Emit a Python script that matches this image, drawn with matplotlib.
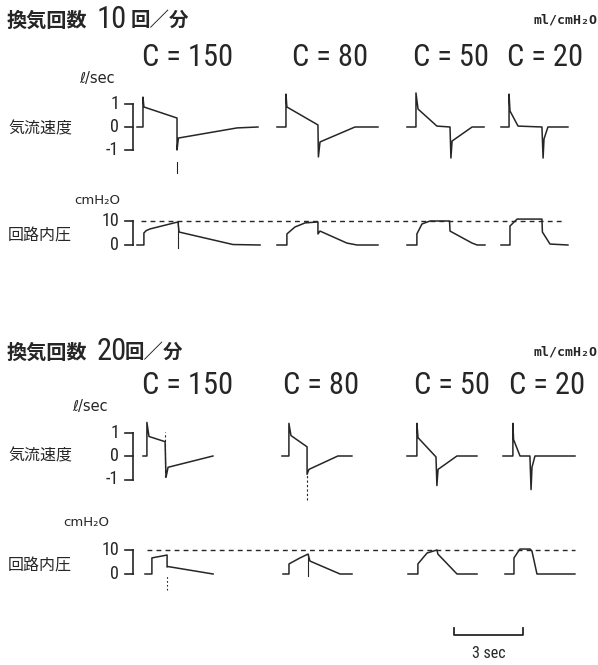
import matplotlib
matplotlib.use("Agg")
import matplotlib.pyplot as plt

# --- DATA: flow (l/sec) and circuit pressure (cmH2O) traces, time in sec ---
compliance = [150, 80, 50, 20]          # ml/cmH2O
vent_rates = [10, 20]                   # breaths / min
ref_pressure = 10                       # dashed reference, cmH2O
flow_ticks = [1, 0, -1]
pres_ticks = [10, 0]
scale_sec = 3

# 10/min, flow
f10_t = [[0, 0.26, 0.26, 0.30, 1.74, 1.74, 1.80, 4.35, 5.26],
         [0, 0.39, 0.39, 0.43, 1.78, 1.80, 1.87, 3.39, 4.39],
         [0, 0.39, 0.39, 0.48, 1.30, 1.87, 1.91, 1.96, 2.83, 3.35],
         [0, 0.35, 0.35, 0.39, 0.74, 1.78, 1.83, 1.87, 2.04, 2.91]]
f10_v = [[0, 0, 1.30, 0.87, 0.39, -1.00, -0.48, -0.04, 0],
         [0, 0, 1.43, 0.87, 0.09, -1.30, -0.65, 0, 0],
         [0, 0, 1.48, 0.78, 0.04, 0, -1.35, -0.61, 0, 0],
         [0, 0, 1.43, 0.70, 0.04, 0, -1.35, -0.52, 0, 0]]
# 10/min, pressure
p10_t = [[0, 0.30, 0.30, 0.40, 0.57, 1.78, 1.83, 4.17, 5.35],
         [0, 0.43, 0.43, 0.78, 1.22, 1.78, 1.78, 1.87, 3.04, 3.48, 4.39],
         [0, 0.43, 0.43, 0.65, 1.00, 1.85, 1.87, 2.83, 3.05, 3.39],
         [0, 0.39, 0.39, 0.70, 1.78, 1.80, 2.13, 2.91]]
p10_v = [[0, 0, 5.0, 6.0, 6.7, 9.6, 5.4, 0.2, 0],
         [0, 0, 4.6, 7.5, 9.2, 9.6, 4.6, 5.8, 0.8, 0, 0],
         [0, 0, 4.6, 8.75, 10, 10, 5.8, 0.8, 0, 0],
         [0, 0, 7.9, 10.8, 10.8, 5.4, 0.4, 0]]
# 20/min, flow
f20_t = [[0, 0.17, 0.17, 0.26, 0.96, 1.00, 1.09, 3.04],
         [0, 0.30, 0.30, 0.39, 1.09, 1.09, 1.17, 2.43, 3.04],
         [0, 0.43, 0.43, 0.48, 1.26, 1.30, 1.35, 2.17, 3.04],
         [0, 0.43, 0.43, 0.46, 0.74, 1.17, 1.22, 1.26, 1.39, 3.13]]
f20_v = [[0, 0, 1.43, 0.83, 0.61, -0.91, -0.48, 0],
         [0, 0, 1.39, 0.87, 0.39, -0.78, -0.57, 0, 0],
         [0, 0, 1.39, 0.78, -0.04, -1.26, -0.57, 0, 0],
         [0, 0, 1.39, 0.70, 0, 0, -1.43, -0.48, 0, 0]]
# 20/min, pressure
p20_t = [[0, 0.30, 0.30, 0.52, 0.96, 0.96, 1.00, 2.96],
         [0, 0.26, 0.26, 0.74, 1.09, 1.17, 2.48, 3.00],
         [0, 0.43, 0.43, 0.83, 1.26, 1.30, 2.13, 3.00],
         [0, 0.39, 0.39, 0.65, 1.09, 1.17, 1.39, 3.04]]
p20_v = [[0, 0, 6.7, 7.1, 7.9, 2.9, 3.1, 0],
         [0, 0, 4.2, 6.7, 8.3, 5.4, 0, 0],
         [0, 0, 4.2, 8.75, 10, 8.3, 0, 0],
         [0, 0, 6.7, 10.4, 10.4, 9.6, 0, 0]]

# event marks at end of inspiration: (column, time, low, high, style)
f10_marks = [(0, 1.74, -2.0, -1.5, "-")]
p10_marks = [(0, 1.78, -1.25, 9.6, "-")]
f20_marks = [(0, 0.96, -0.91, 1.04, (0, (2, 2))), (1, 1.09, -1.87, -0.78, (0, (2, 2)))]
p20_marks = [(0, 0.96, -6.7, -0.5, (0, (1.5, 2))), (1, 1.09, -0.8, 8.3, "-")]

# --- LAYOUT (pixels) ---
W, H = 598, 665
PX_SEC = 23.0
INK = "#262626"
JP = ["Noto Sans CJK JP", "DejaVu Sans"]
NARROW = ["Roboto Condensed", "Liberation Sans Narrow", "Liberation Sans"]

fig = plt.figure(figsize=(W / 100, H / 100), dpi=100)


def row_axes(top, bottom, base, ppu):
    ax = fig.add_axes([0, 1 - bottom / H, 1, (bottom - top) / H])
    ax.set_xlim(0, W / PX_SEC)
    ax.set_ylim(-(bottom - base) / ppu, (base - top) / ppu)
    ax.axis("off")
    return ax


def ftext(x, y, s, **kw):
    kw.setdefault("color", INK)
    fig.text(x / W, 1 - y / H, s, **kw)


def bracket(ax, ticks, x_px=133, left_px=125, label_x=119, size=13):
    x, xl = x_px / PX_SEC, left_px / PX_SEC
    ax.plot([x, x], [min(ticks), max(ticks)], color=INK, lw=1.2)
    for v in ticks:
        ax.plot([xl, x], [v, v], color=INK, lw=1.2)
        ax.text(label_x / PX_SEC, v, str(v), ha="right", va="center",
                fontsize=size, family=NARROW, color=INK)


def draw_row(ax, offsets, ts, vs, marks):
    for off, t, v in zip(offsets, ts, vs):
        ax.plot([off / PX_SEC + ti for ti in t], v, color=INK, lw=1.1,
                solid_joinstyle="round")
    for col, t, lo, hi, ls in marks:
        x = offsets[col] / PX_SEC + t
        ax.plot([x, x], [lo, hi], color=INK, lw=0.8, ls=ls)


panels = [
    dict(rate=vent_rates[0], title_y=20, kana_x=131, c_y=57,
         c_x=[188, 330, 451, 545],
         unit_y=78, unit_x=97, flow=(80, 185, 127, 23.0), fts=f10_t, fvs=f10_v,
         foff=[137, 277, 407, 501], fmarks=f10_marks, flab_y=129,
         cm_x=97, cm_y=200, pres=(205, 262, 245, 2.4), pts=p10_t, pvs=p10_v,
         poff=[137, 277, 407, 501], pmarks=p10_marks, plab_y=236,
         dash=(141, 563)),
    dict(rate=vent_rates[1], title_y=352, kana_x=125, c_y=385,
         c_x=[188, 321, 452, 547],
         unit_y=406, unit_x=90, flow=(410, 505, 456, 23.5), fts=f20_t, fvs=f20_v,
         foff=[143, 282, 407, 503], fmarks=f20_marks, flab_y=456,
         cm_x=86, cm_y=522, pres=(535, 600, 574, 2.4), pts=p20_t, pvs=p20_v,
         poff=[145, 283, 408, 505], pmarks=p20_marks, plab_y=566,
         dash=(147, 575)),
]

for p in panels:
    # heading
    ftext(7, p["title_y"], "換気回数", family=JP, fontsize=14.5, weight="bold",
          va="center")
    ftext(97, p["title_y"] - 1, str(p["rate"]), family=NARROW, fontsize=22,
          va="center")
    ftext(p["kana_x"], p["title_y"], "回／分", family=JP, fontsize=14,
          weight="bold", va="center")
    ftext(597, p["title_y"], "ml/cmH₂O", family=["DejaVu Sans Mono"],
          fontsize=9.5, weight="bold", ha="right", va="center")
    for cx, c in zip(p["c_x"], compliance):
        ftext(cx, p["c_y"], f"C = {c}", family=NARROW, fontsize=22,
              ha="center", va="center")

    # flow row
    ftext(p["unit_x"], p["unit_y"], "ℓ/sec", family=["DejaVu Sans"],
          fontsize=10.5, ha="center", va="center")
    ftext(8, p["flab_y"], "気流速度", family=JP, fontsize=11.5, va="center")
    ax_f = row_axes(*p["flow"])
    bracket(ax_f, flow_ticks)
    draw_row(ax_f, p["foff"], p["fts"], p["fvs"], p["fmarks"])

    # pressure row
    ftext(p["cm_x"], p["cm_y"], "cmH₂O", family=["DejaVu Sans"], fontsize=9.5,
          ha="center", va="center")
    ftext(8, p["plab_y"], "回路内圧", family=JP, fontsize=11.5, va="center")
    ax_p = row_axes(*p["pres"])
    bracket(ax_p, pres_ticks)
    x0, x1 = p["dash"]
    ax_p.plot([x0 / PX_SEC, x1 / PX_SEC], [ref_pressure, ref_pressure],
              color=INK, lw=1.0, dashes=(3.5, 3))
    draw_row(ax_p, p["poff"], p["pts"], p["pvs"], p["pmarks"])

# time scale bar
ax_s = row_axes(615, 665, 635, 1.0)
s0 = 454 / PX_SEC
ax_s.plot([s0, s0, s0 + scale_sec, s0 + scale_sec], [7, 0, 0, 7],
          color=INK, lw=1.3)
ax_s.text(s0 + scale_sec / 2, -18, f"{scale_sec} sec", ha="center",
          va="center", fontsize=11.5, family=NARROW, color=INK)

fig.savefig("out.png", dpi=100, facecolor="white")
